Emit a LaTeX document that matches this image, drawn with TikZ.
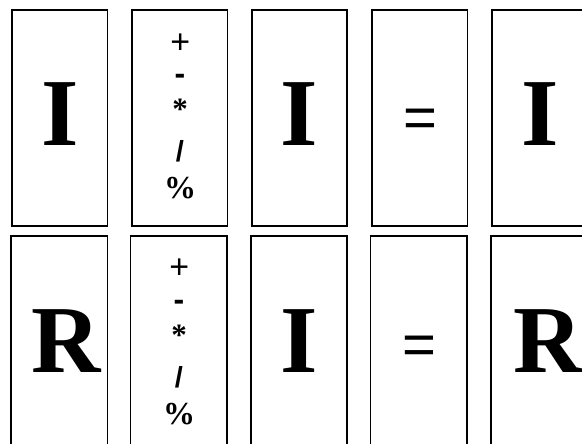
\documentclass[tikz,border=0pt]{standalone}
\usepackage{fontspec}
\newfontfamily\sansf{Liberation Sans}[BoldFont={Liberation Sans Bold}]
\newfontfamily\seriff{Liberation Serif}[BoldFont={Liberation Serif Bold}]
\begin{document}
\begin{tikzpicture}[x=1pt,y=-1pt,
  card/.style={draw=black,line width=1.8pt,minimum width=95.5pt,minimum height=216pt,inner sep=0pt,outer sep=0pt},
  cardb/.style={card,minimum width=96.5pt},
  big/.style={inner sep=0pt,font=\seriff\bfseries\fontsize{96}{100}\selectfont},
  opplus/.style={inner sep=0pt,font=\sansf\fontsize{34}{36}\selectfont},
  opminus/.style={inner sep=0pt,font=\sansf\bfseries\fontsize{32}{34}\selectfont},
  opstar/.style={inner sep=0pt,font=\seriff\bfseries\fontsize{31}{34}\selectfont},
  opslash/.style={inner sep=0pt,font=\sansf\bfseries\fontsize{29}{32}\selectfont},
  oppct/.style={inner sep=0pt,font=\seriff\bfseries\fontsize{32}{34}\selectfont},
  opeq/.style={inner sep=0pt,font=\sansf\fontsize{58}{60}\selectfont}]
\useasboundingbox (0,0) rectangle (582,444);
\clip (0,0) rectangle (582,444);
% top row
\node[card] (t1) at (59.75,118) {};
\node[card] (t2) at (179.7,118) {};
\node[card] (t3) at (299.5,118) {};
\node[card] (t4) at (419.7,118) {};
\node[card] (t5) at (539.5,118) {};
% bottom row
\node[cardb] (b1) at (59.2,344) {};
\node[cardb] (b2) at (178.8,344) {};
\node[cardb] (b3) at (299,344) {};
\node[cardb] (b4) at (418.8,344) {};
\node[cardb] (b5) at (539,344) {};
% top row texts
\node[big] (ti1) at (60,114.5) {I};
\node[opplus] (tp) at (180.3,43.5) {+};
\node[opminus] (tm) at (180,78.9) {-};
\node[opstar] (ts) at (180,108.9) {*};
\node[opslash] (tsl) at (180,150.9) {/};
\node[oppct] (tpc) at (180,187.9) {\%};
\node[big] (ti3) at (299.5,114.5) {I};
\node[opeq] (te) at (420.7,123.5) {=};
\node[big] (ti5) at (540,114.5) {I};
% bottom row texts
\node[big,anchor=west] (br1) at (31.5,341.2) {R};
\node[opplus] (bp) at (179.3,268.5) {+};
\node[opminus] (bm) at (179,305.5) {-};
\node[opstar] (bs) at (179,335.5) {*};
\node[opslash] (bsl) at (179,377) {/};
\node[oppct] (bpc) at (179,414.5) {\%};
\node[big] (bi3) at (299,341.2) {I};
\node[opeq] (be) at (419.5,349.8) {=};
\node[big,anchor=west] (br5) at (513.5,341.2) {R};
\end{tikzpicture}
\end{document}
